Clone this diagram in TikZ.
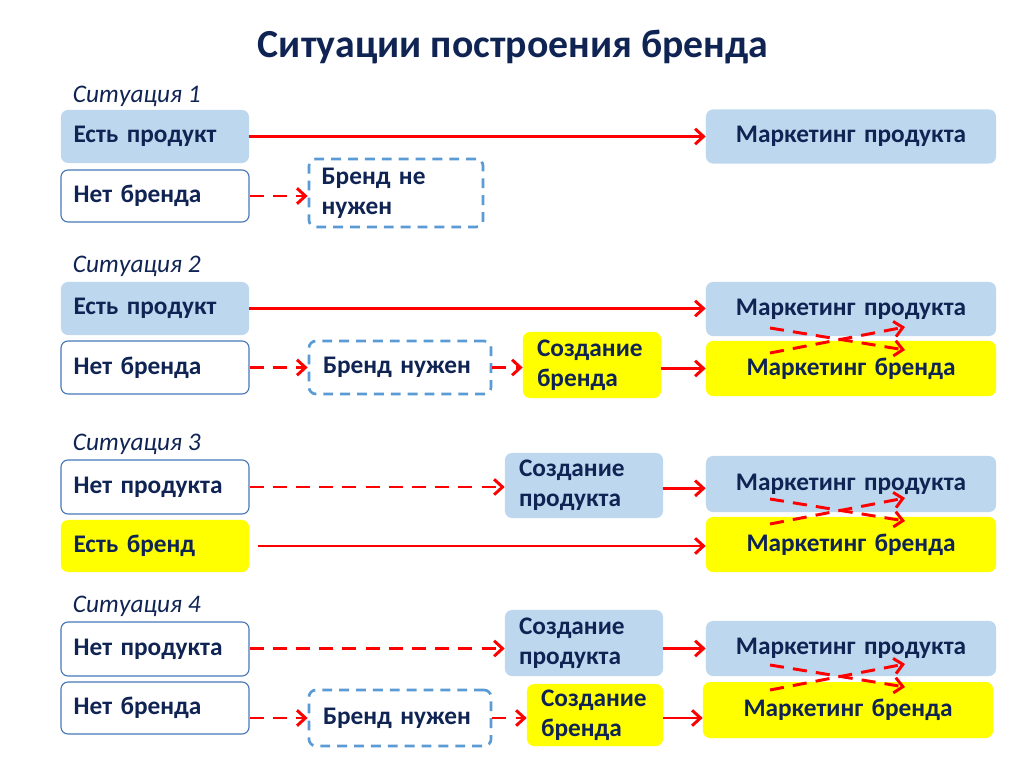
\documentclass[tikz,border=0pt]{standalone}
\usepackage{fontspec}
\setmainfont{Carlito}
\usetikzlibrary{arrows.meta}
\definecolor{navy}{RGB}{16,36,84}
\definecolor{prodblue}{RGB}{189,215,238}
\definecolor{edgeblue}{RGB}{70,120,185}
\definecolor{dashblue}{RGB}{91,155,213}
\definecolor{brandyellow}{RGB}{255,255,0}
\definecolor{arrred}{RGB}{255,0,0}
\tikzset{
  box/.style={rounded corners=5pt, font=\fontsize{18}{21.5}\selectfont\bfseries,
    text=navy, inner xsep=9pt, inner ysep=0pt, align=left},
  sz/.style 2 args={minimum width=#1*0.7113pt, minimum height=#2*0.7113pt},
  prodbox/.style={box, fill=prodblue},
  nobox/.style={box, fill=white, draw=edgeblue, line width=0.8pt},
  brandbox/.style={box, fill=brandyellow},
  needbox/.style={box, draw=dashblue, line width=1.9pt, dash pattern=on 7pt off 5pt},
  leftw/.style={text width=115.7pt, sz={188}{#1}},
  mktw/.style={align=center, text width=188pt, sz={290}{#1}},
  lbl/.style={anchor=west, text=navy, font=\fontsize{18}{21}\selectfont\itshape},
  solidarr/.style={draw=arrred, line width=2.1pt, -{Straight Barb[length=6pt,width=11pt]}},
  dasharr/.style={solidarr, dash pattern=on 10pt off 6.5pt},
}
\begin{document}
\begin{tikzpicture}[x=0.025cm, y=-0.025cm]
\useasboundingbox (0,0) rectangle (1024,767);

\node[text=navy, font=\fontsize{28.3}{32}\selectfont\bfseries] (title) at (513,47) {Ситуации построения бренда};

%situation 1
\node[lbl] (s1) at (68,96) {Ситуация 1};
\node[prodbox, leftw=53] (ep1) at (155,136.5) {Есть продукт};
\node[nobox, leftw=52] (nb1) at (155,196) {Нет бренда};
\node[needbox, text width=105.8pt, sz={174}{68}] (nn1) at (396,193) {Бренд не\\нужен};
\node[prodbox, mktw=54] (mp1) at (851,136.5) {Маркетинг продукта};
\draw[solidarr] (ep1.east) -- (mp1.west);
\draw[dasharr] (nb1.east) -- (nb1.east -| nn1.west);

%situation 2
\node[lbl] (s2) at (68,266) {Ситуация 2};
\node[prodbox, leftw=53] (ep2) at (155,308.5) {Есть продукт};
\node[nobox, leftw=53] (nb2) at (155,367.5) {Нет бренда};
\node[needbox, text width=109.5pt, inner xsep=10pt, sz={182}{53}] (bn2) at (400,367.5) {Бренд нужен};
\node[brandbox, text width=78.2pt, inner xsep=10pt, sz={138}{66}] (sb2) at (592,365) {Создание\\бренда};
\node[prodbox, mktw=54] (mp2) at (851,309) {Маркетинг продукта};
\node[brandbox, mktw=55] (mb2) at (851,368.5) {Маркетинг бренда};
\draw[solidarr] (ep2.east) -- (ep2.east -| mp2.west);
\draw[dasharr] (nb2.east) -- (bn2.west);
\draw[dasharr] (bn2.east) -- (bn2.east -| sb2.west);
\draw[solidarr] (mb2.west -| sb2.east) -- (mb2.west);

%situation 3
\node[lbl] (s3) at (68,444) {Ситуация 3};
\node[nobox, leftw=54] (np3) at (155,487) {Нет продукта};
\node[brandbox, leftw=52] (eb3) at (155,546) {Есть бренд};
\node[prodbox, text width=92.4pt, inner xsep=10pt, sz={158}{65}] (sp3) at (584,485.5) {Создание\\продукта};
\node[prodbox, mktw=56] (mp3) at (851,484) {Маркетинг продукта};
\node[brandbox, mktw=55] (mb3) at (851,544.5) {Маркетинг бренда};
\draw[dasharr] (np3.east) -- (np3.east -| sp3.west);
\draw[solidarr] ([yshift=-2pt]sp3.east) -- ([yshift=-2pt]sp3.east -| mp3.west);
\draw[solidarr, shorten <=6pt] (eb3.east) -- (eb3.east -| mb3.west);

%situation 4
\node[lbl] (s4) at (68,606) {Ситуация 4};
\node[nobox, leftw=54] (np4) at (155,649) {Нет продукта};
\node[nobox, leftw=52] (nb4) at (155,708) {Нет бренда};
\node[prodbox, text width=92.4pt, inner xsep=10pt, sz={158}{66}] (sp4) at (584,643) {Создание\\продукта};
\node[prodbox, mktw=55] (mp4) at (851,648.5) {Маркетинг продукта};
\node[needbox, text width=109.5pt, inner xsep=10pt, sz={182}{56}] (bn4) at (400,718) {Бренд нужен};
\node[brandbox, text width=76.7pt, inner xsep=10pt, sz={136}{62}] (sb4) at (595,715) {Создание\\бренда};
\node[brandbox, mktw=56] (mb4) at (848,710) {Маркетинг бренда};
\draw[dasharr] (mp4.west -| np4.east) -- (mp4.west -| sp4.west);
\draw[solidarr] (mp4.west -| sp4.east) -- (mp4.west);
\draw[dasharr] (bn4.west -| nb4.east) -- (bn4.west);
\draw[dasharr] (bn4.east) -- (bn4.east -| sb4.west);
\draw[solidarr] (bn4.east -| sb4.east) -- (bn4.east -| mb4.west);

%crossing arrows between the two marketing boxes
\foreach \i/\m in {2/340,3/511,4/677}{
  \coordinate (x\i a) at (770,\m-12);
  \coordinate (x\i b) at (905,\m+10);
  \coordinate (x\i c) at (770,\m+13);
  \coordinate (x\i d) at (905,\m-13);
  \draw[dasharr] (x\i a) -- (x\i b);
  \draw[dasharr] (x\i c) -- (x\i d);
}
\end{tikzpicture}
\end{document}
